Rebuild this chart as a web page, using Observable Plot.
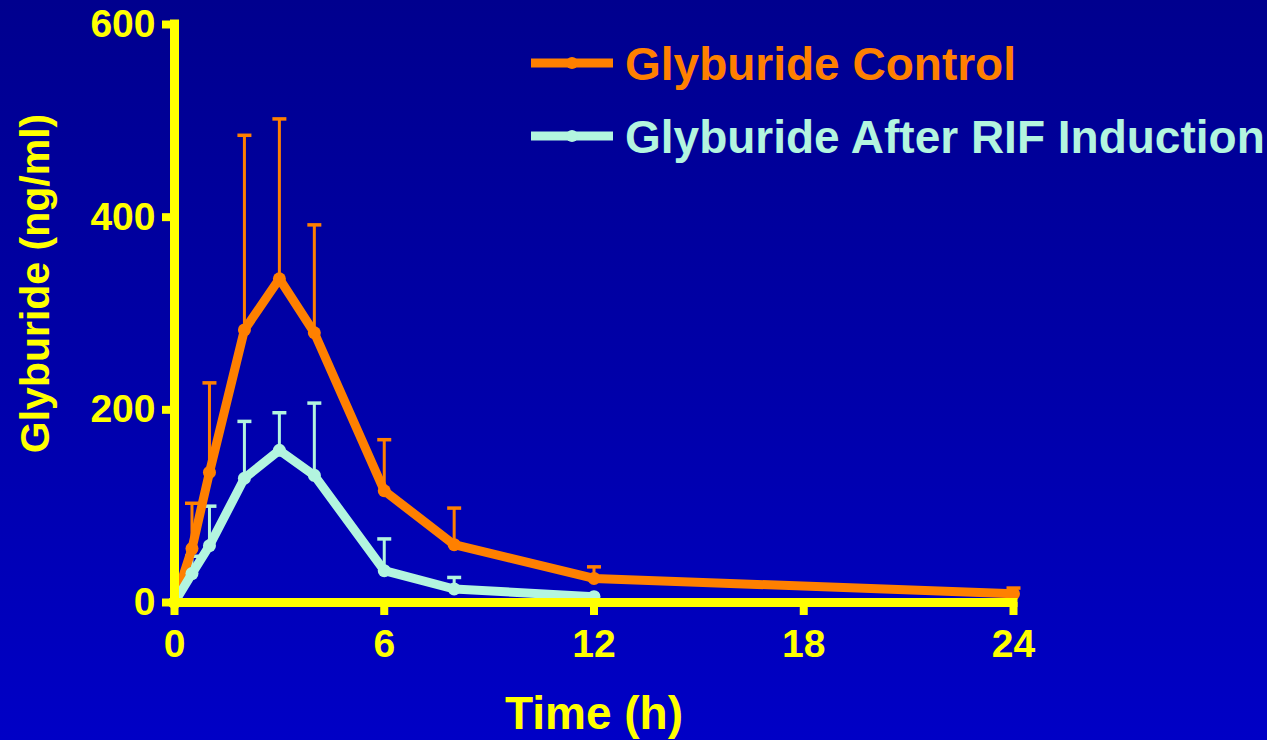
<!DOCTYPE html>
<html>
<head>
<meta charset="utf-8">
<script src="https://cdn.jsdelivr.net/npm/d3@7"></script>
<script src="https://cdn.jsdelivr.net/npm/@observablehq/plot@0.6"></script>
<style>
  html, body { margin: 0; padding: 0; }
  body { width: 1267px; height: 740px; overflow: hidden;
         background: linear-gradient(to bottom, #00008e 0%, #0000a8 50%, #0000c6 100%);
         font-family: "Liberation Sans", Arial, sans-serif; }
  #wrap { position: relative; width: 1267px; height: 740px; }
  #legend { position: absolute; left: 0; top: 0; }
</style>
</head>
<body>
<div id="wrap"><div id="chart"></div><svg id="legend" width="1267" height="180"></svg></div>
<script>
// ---- data ----
const controlTime = [0, 0.5, 1, 2, 3, 4, 6, 8, 12, 24];
const controlMean = [0, 56, 135, 283, 336, 280, 116, 60, 25, 9];
const controlSD   = [0, 47, 93, 202, 166, 112, 53, 38, 12, 6];

const rifTime = [0, 0.5, 1, 2, 3, 4, 6, 8, 12];
const rifMean = [0, 30, 59, 129, 158, 132, 33, 14, 6];
const rifSD   = [0, 18, 41, 59, 39, 75, 33, 12, 0];

const xTicks = [0, 6, 12, 18, 24];
const yTicks = [0, 200, 400, 600];
const seriesNames = ["Glyburide Control", "Glyburide After RIF Induction"];
const seriesColors = ["#ff8000", "#b3f5df"];

const control = controlTime.map((t, i) => ({t, v: controlMean[i], sd: controlSD[i]}));
const rif = rifTime.map((t, i) => ({t, v: rifMean[i], sd: rifSD[i]}));

const YEL = "#ffff00";
const FONT = "Liberation Sans, Arial, sans-serif";
const capSymbol = { draw(ctx) { ctx.moveTo(-7, 0); ctx.lineTo(7, 0); } };

const errs = (data, color) => [
  Plot.ruleX(data.filter(d => d.sd > 0), {x: "t", y1: "v", y2: d => d.v + d.sd, stroke: color, strokeWidth: 3}),
  Plot.dot(data.filter(d => d.sd > 0), {x: "t", y: d => d.v + d.sd, symbol: capSymbol, stroke: color, strokeWidth: 3.5, fill: "none"})
];

const chart = Plot.plot({
  width: 1267,
  height: 740,
  marginLeft: 174,
  marginRight: 254,
  marginTop: 24,
  marginBottom: 138,
  style: {background: "transparent", fontFamily: FONT, fontWeight: "bold", overflow: "visible"},
  x: {domain: [0, 24]},
  y: {domain: [0, 600]},
  marks: [
    ...errs(control, seriesColors[0]),
    ...errs(rif, seriesColors[1]),
    Plot.line(control, {x: "t", y: "v", stroke: seriesColors[0], strokeWidth: 9, strokeLinejoin: "round"}),
    Plot.dot(control, {x: "t", y: "v", r: 6.5, fill: seriesColors[0]}),
    Plot.line(rif, {x: "t", y: "v", stroke: seriesColors[1], strokeWidth: 9, strokeLinejoin: "round"}),
    Plot.dot(rif, {x: "t", y: "v", r: 6.5, fill: seriesColors[1]}),
    Plot.axisY({ticks: yTicks, tickSize: 12, tickPadding: 7, stroke: YEL, strokeWidth: 8, fill: YEL,
                fontSize: 39, fontWeight: "bold", label: null, tickFormat: d => String(d)}),
    Plot.axisX({ticks: xTicks, tickSize: 13, tickPadding: 14, stroke: YEL, strokeWidth: 8, fill: YEL,
                fontSize: 39, fontWeight: "bold", label: null, tickFormat: d => String(d)}),
    Plot.ruleX([0], {stroke: YEL, strokeWidth: 9, strokeLinecap: "square"}),
    Plot.ruleY([0], {stroke: YEL, strokeWidth: 9, strokeLinecap: "square"}),
    Plot.text(["Time (h)"], {frameAnchor: "bottom", lineAnchor: "bottom", dy: 126, fill: YEL,
                             fontSize: 46, fontWeight: "bold"}),
    Plot.text(["Glyburide (ng/ml)"], {frameAnchor: "left", rotate: -90, textAnchor: "middle", lineAnchor: "middle",
                                      dx: -139, dy: -30, fill: YEL, fontSize: 41, fontWeight: "bold"})
  ]
});
document.getElementById("chart").appendChild(chart);

// ---- legend ----
const lg = d3.select("#legend");
const rows = [{y: 63, base: 80}, {y: 136, base: 153}];
seriesNames.forEach((name, i) => {
  const g = lg.append("g");
  g.append("line").attr("x1", 531).attr("x2", 613).attr("y1", rows[i].y).attr("y2", rows[i].y)
    .attr("stroke", seriesColors[i]).attr("stroke-width", 9);
  g.append("circle").attr("cx", 572).attr("cy", rows[i].y).attr("r", 6).attr("fill", seriesColors[i]);
  g.append("text").attr("x", 625).attr("y", rows[i].base).attr("fill", seriesColors[i])
    .attr("font-family", FONT).attr("font-weight", "bold").attr("font-size", 46).text(name);
});
</script>
</body>
</html>
